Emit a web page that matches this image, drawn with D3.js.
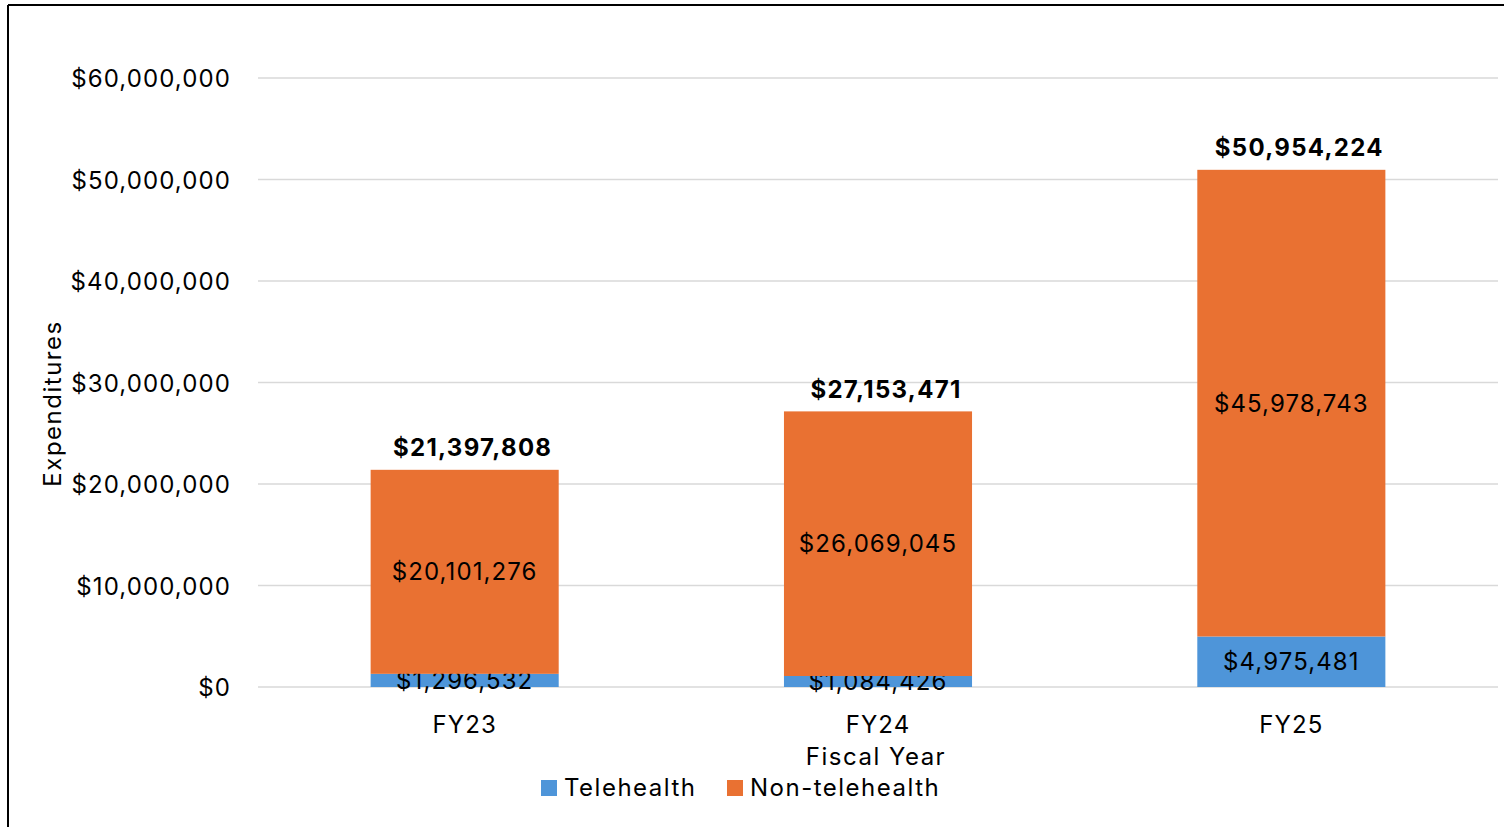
<!DOCTYPE html>
<html>
<head>
<meta charset="utf-8">
<script src="https://cdn.jsdelivr.net/npm/d3@7"></script>
<style>
  html, body { margin: 0; padding: 0; background: #fff; }
  svg { display: block; font-family: Inter, "Liberation Sans", Arial, sans-serif; }
  .num { letter-spacing: 1.1px; }
  .word { letter-spacing: 1.5px; }
  .total { letter-spacing: 1.3px; }
</style>
</head>
<body>
<svg id="chart" width="1504" height="827"></svg>
<script>
// Expenditures by fiscal year, split into telehealth and non-telehealth
const years = ["FY23", "FY24", "FY25"];
const telehealth = [1296532, 1084426, 4975481];
const nonTelehealth = [20101276, 26069045, 45978743];
const yTicks = [0, 10000000, 20000000, 30000000, 40000000, 50000000, 60000000];
const seriesNames = ["Telehealth", "Non-telehealth"];
const seriesColors = ["#4E95D9", "#E97132"];

const FONT = "Inter, Liberation Sans, Arial, sans-serif";
const svg = d3.select("#chart");
const W = 1504, H = 827;

// outer frame (left and top edges visible)
svg.append("line").attr("x1", 8).attr("x2", 8).attr("y1", 5).attr("y2", H).attr("stroke", "#000").attr("stroke-width", 2);
svg.append("line").attr("x1", 8).attr("x2", W).attr("y1", 5).attr("y2", 5).attr("stroke", "#000").attr("stroke-width", 2);

const plot = { left: 258, right: 1498, top: 78, bottom: 687 };

const x = d3.scaleBand().domain(years).range([plot.left, plot.right]).paddingInner(0.545).paddingOuter(0.2725);
const y = d3.scaleLinear().domain([0, 60000000]).range([plot.bottom, plot.top]);

const money = v => "$" + d3.format(",")(v);

// gridlines
svg.append("g")
  .selectAll("line")
  .data(yTicks)
  .join("line")
  .attr("x1", plot.left).attr("x2", plot.right)
  .attr("y1", d => y(d)).attr("y2", d => y(d))
  .attr("stroke", "#d9d9d9").attr("stroke-width", 1.5);

// y axis tick labels
const yAxis = d3.axisLeft(y).tickValues(yTicks).tickFormat(money).tickSize(0).tickPadding(27);
const gy = svg.append("g").attr("transform", `translate(${plot.left},0)`).call(yAxis);
gy.select(".domain").remove();
gy.selectAll("text").attr("font-size", 24).attr("fill", "#000").attr("font-family", FONT)
  .attr("class", "num").attr("dy", "0.36em");

// x axis labels
const xAxis = d3.axisBottom(x).tickSize(0).tickPadding(29);
const gx = svg.append("g").attr("transform", `translate(0,${plot.bottom})`).call(xAxis);
gx.select(".domain").remove();
gx.selectAll("text").attr("font-size", 24).attr("fill", "#000").attr("font-family", FONT).attr("class", "num");

// stacked bars
const rows = years.map((yr, i) => ({ year: yr, Telehealth: telehealth[i], "Non-telehealth": nonTelehealth[i] }));
const stack = d3.stack().keys(seriesNames)(rows);

stack.forEach((layer, li) => {
  const g = svg.append("g");
  g.selectAll("rect")
    .data(layer)
    .join("rect")
    .attr("x", d => x(d.data.year))
    .attr("width", x.bandwidth())
    .attr("y", d => y(d[1]))
    .attr("height", d => y(d[0]) - y(d[1]))
    .attr("fill", seriesColors[li]);
  g.selectAll("text")
    .data(layer)
    .join("text")
    .attr("class", "num")
    .attr("x", d => x(d.data.year) + x.bandwidth() / 2)
    .attr("y", d => (y(d[0]) + y(d[1])) / 2)
    .attr("dy", "0.35em")
    .attr("text-anchor", "middle")
    .attr("font-size", 24)
    .attr("fill", "#000")
    .text(d => money(d[1] - d[0]));
});

// totals above bars
svg.append("g")
  .selectAll("text")
  .data(rows)
  .join("text")
  .attr("class", "total")
  .attr("x", d => x(d.year) + x.bandwidth() / 2 + 8)
  .attr("y", d => y(d.Telehealth + d["Non-telehealth"]) - 22)
  .attr("dy", "0.35em")
  .attr("text-anchor", "middle")
  .attr("font-size", 24)
  .attr("font-weight", "bold")
  .attr("fill", "#000")
  .text(d => money(d.Telehealth + d["Non-telehealth"]));

// axis titles
svg.append("text")
  .attr("class", "word")
  .attr("transform", `translate(53,${(plot.top + plot.bottom) / 2 + 21}) rotate(-90)`)
  .attr("text-anchor", "middle").attr("dy", "0.35em")
  .attr("font-size", 24).attr("fill", "#000")
  .text("Expenditures");

svg.append("text")
  .attr("class", "word")
  .attr("x", (plot.left + plot.right) / 2 - 2)
  .attr("y", 757).attr("dy", "0.35em")
  .attr("text-anchor", "middle")
  .attr("font-size", 24).attr("fill", "#000")
  .text("Fiscal Year");

// legend
const legendItems = [{ name: seriesNames[0], color: seriesColors[0], x: 541 }, { name: seriesNames[1], color: seriesColors[1], x: 727 }];
const lg = svg.append("g");
legendItems.forEach(it => {
  lg.append("rect").attr("x", it.x).attr("y", 780).attr("width", 16).attr("height", 16).attr("fill", it.color);
  lg.append("text").attr("class", "word").attr("x", it.x + 23).attr("y", 788).attr("dy", "0.35em")
    .attr("font-size", 24).attr("fill", "#000").text(it.name);
});
</script>
</body>
</html>
